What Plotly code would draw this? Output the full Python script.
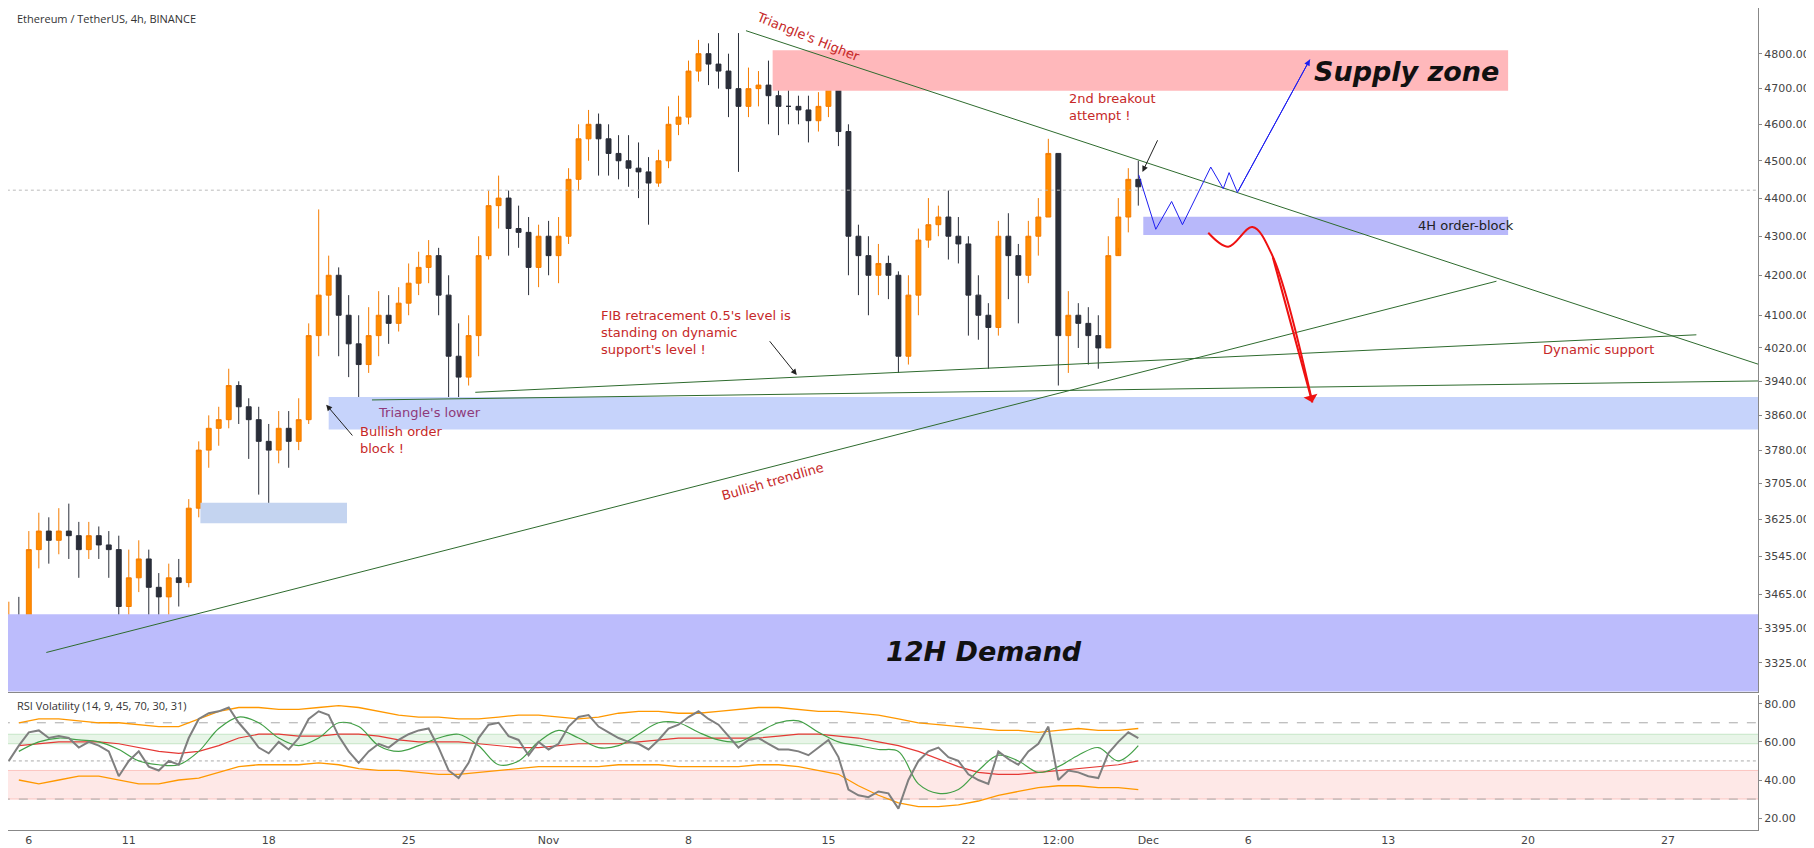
import math
from datetime import datetime, timedelta
import plotly.graph_objects as go
from plotly.subplots import make_subplots

## DATA (12h candles)

start = datetime(2021, 10, 5)
closes = [3420, 3380, 3560, 3600, 3580, 3600, 3590, 3560, 3590, 3570,
          3560, 3440, 3500, 3540, 3480, 3460, 3500, 3490, 3650, 3780,
          3830, 3850, 3930, 3880, 3850, 3800, 3780, 3830, 3800, 3850,
          4050, 4150, 4200, 4100, 4030, 3980, 4050, 4100, 4080, 4130,
          4180, 4220, 4250, 4150, 4000, 3950, 4050, 4250, 4380, 4400,
          4320, 4310, 4220, 4300, 4250, 4300, 4450, 4560, 4600, 4560,
          4520, 4500, 4480, 4470, 4440, 4500, 4600, 4620, 4750, 4800,
          4770, 4750, 4700, 4650, 4700, 4710, 4680, 4650, 4650, 4640,
          4610, 4650, 4700, 4580, 4300, 4250, 4200, 4230, 4200, 4000,
          4150, 4290, 4330, 4350, 4300, 4280, 4150, 4100, 4070, 4300,
          4250, 4200, 4300, 4350, 4520, 4050, 4100, 4080, 4050, 4020,
          4250, 4350, 4450, 4430]
highs = [3450, 3460, 3600, 3640, 3630, 3650, 3660, 3620, 3620, 3610,
         3600, 3590, 3560, 3580, 3560, 3510, 3530, 3540, 3670, 3800,
         3860, 3880, 3970, 3940, 3900, 3880, 3840, 3870, 3870, 3900,
         4080, 4370, 4250, 4220, 4150, 4100, 4120, 4160, 4150, 4170,
         4230, 4260, 4290, 4270, 4200, 4080, 4100, 4300, 4420, 4460,
         4420, 4380, 4350, 4330, 4340, 4350, 4480, 4600, 4640, 4630,
         4600, 4570, 4570, 4550, 4510, 4530, 4650, 4680, 4780, 4840,
         4830, 4860, 4800, 4860, 4760, 4750, 4780, 4730, 4700, 4680,
         4680, 4690, 4770, 4740, 4600, 4330, 4300, 4280, 4250, 4210,
         4200, 4320, 4400, 4380, 4420, 4350, 4300, 4200, 4130, 4340,
         4360, 4280, 4340, 4400, 4560, 4520, 4160, 4130, 4120, 4100,
         4300, 4400, 4480, 4500]
lows = [3300, 3340, 3360, 3520, 3530, 3550, 3540, 3500, 3540, 3540,
        3500, 3400, 3370, 3470, 3420, 3400, 3420, 3440, 3480, 3630,
        3740, 3790, 3830, 3840, 3760, 3680, 3640, 3750, 3740, 3780,
        3840, 4000, 4050, 4000, 3950, 3890, 3960, 4000, 4030, 4060,
        4100, 4150, 4180, 4100, 3900, 3890, 3930, 4000, 4240, 4320,
        4250, 4270, 4150, 4170, 4200, 4180, 4280, 4420, 4500, 4460,
        4460, 4450, 4430, 4400, 4330, 4430, 4480, 4570, 4600, 4720,
        4710, 4700, 4620, 4470, 4620, 4650, 4600, 4570, 4600, 4600,
        4550, 4580, 4620, 4540, 4200, 4150, 4100, 4150, 4140, 3960,
        3980, 4100, 4270, 4300, 4240, 4230, 4050, 4040, 3970, 4050,
        4140, 4080, 4180, 4250, 4350, 3930, 3960, 4020, 3980, 3970,
        4020, 4270, 4310, 4380]
first_open = 3380

rsi = [50, 58, 65, 66, 62, 63, 62, 57, 60, 58, 55, 42, 50, 55, 47, 45, 50, 48, 62, 72,
       75, 76, 78, 70, 64, 57, 54, 60, 56, 62, 72, 76, 74, 63, 55, 49, 55, 59, 57, 61,
       64, 66, 67, 57, 45, 41, 49, 62, 69, 70, 63, 61, 53, 60, 56, 59, 68, 73, 74, 68,
       65, 62, 60, 59, 56, 61, 67, 69, 73, 76, 72, 69, 63, 57, 61, 62, 59, 56, 56, 55,
       53, 57, 61, 52, 35, 32, 31, 34, 33, 25, 40, 50, 55, 57, 52, 50, 43, 40, 38, 55,
       51, 48, 55, 59, 68, 40, 45, 44, 42, 41, 54, 60, 65, 62]

# daily RSI-volatility companions
rsi_upper = [70, 72, 72, 71, 70, 70, 69, 68, 68, 72, 76, 78, 78, 77, 77, 78, 79, 78, 76, 74,
             73, 73, 72, 72, 73, 74, 74, 73, 72, 73, 75, 76, 76, 75, 75, 76, 77, 78, 78, 77,
             76, 76, 75, 74, 72, 70, 69, 68, 67, 66, 66, 65, 66, 67, 66, 66, 67]
rsi_lower = [40, 38, 40, 42, 42, 40, 38, 38, 40, 41, 44, 47, 48, 48, 48, 49, 48, 46, 45, 45,
             44, 43, 43, 44, 45, 46, 47, 47, 47, 47, 48, 48, 48, 47, 47, 47, 47, 48, 48, 47,
             45, 43, 37, 32, 28, 26, 26, 27, 29, 32, 34, 36, 37, 37, 36, 36, 35]
rsi_signal = [55, 60, 62, 61, 60, 56, 50, 48, 48, 55, 67, 73, 70, 62, 58, 62, 70, 68, 58, 55,
              58, 62, 64, 58, 48, 50, 60, 66, 62, 57, 58, 64, 70, 70, 65, 61, 60, 65, 70, 71,
              65, 60, 58, 56, 55, 38, 33, 35, 45, 53, 50, 44, 47, 53, 57, 50, 58]
rsi_ma = [58, 59, 60, 60, 60, 59, 57, 55, 54, 55, 58, 62, 64, 64, 63, 63, 64, 64, 63, 61,
          60, 60, 60, 59, 58, 57, 57, 58, 59, 59, 59, 60, 61, 62, 62, 62, 62, 62, 63, 64,
          64, 63, 62, 60, 58, 55, 51, 47, 44, 43, 43, 44, 45, 46, 47, 48, 50]

price_ticks = [4800, 4700, 4600, 4500, 4400, 4300, 4200, 4100, 4020, 3940, 3860,
               3780, 3705, 3625, 3545, 3465, 3395, 3325]
date_ticks = ["2021-10-06", "2021-10-11", "2021-10-18", "2021-10-25", "2021-11-01",
              "2021-11-08", "2021-11-15", "2021-11-22", "2021-11-26 12:00", "2021-12-01",
              "2021-12-06", "2021-12-13", "2021-12-20", "2021-12-27"]
date_labels = ["6", "11", "18", "25", "Nov", "8", "15", "22", "12:00", "Dec",
               "6", "13", "20", "27"]

# drawings: zones (x0, x1, p_low, p_high, colour)
zones = [
    ("2021-11-12 05:00", "2021-12-19", 4694, 4810, "#ffb8bb"),
    ("2021-11-30 18:00", "2021-12-19", 4303, 4351, "#b8b8fa"),
    ("2021-10-21", "2022-01-05", 3827, 3903, "#c6d3fb"),
    ("2021-10-14 14:00", "2021-10-21 22:00", 3617, 3662, "#c4d4f0"),
    ("2021-10-01", "2022-01-05", 3250, 3424, "#bcbcfc"),
]
trend_lines = [
    (["2021-11-10 21:00", "2021-12-31 18:00"], [4867, 3977]),   # triangle higher
    (["2021-10-28 08:00", "2021-12-28 10:00"], [3914, 4052]),   # dynamic support
    (["2021-10-23 04:00", "2021-12-31 18:00"], [3896, 3941]),   # triangle lower
    (["2021-10-06 21:00", "2021-12-18 10:00"], [3346, 4185]),   # bullish trendline
]
blue_x = ["2021-11-30 12:30", "2021-12-01 09:00", "2021-12-02 04:00", "2021-12-02 17:00",
          "2021-12-04 03:00", "2021-12-04 18:00", "2021-12-05 01:00", "2021-12-05 11:00",
          "2021-12-09 02:00"]
blue_y = [4462, 4318, 4391, 4330, 4483, 4425, 4468, 4415, 4783]
red_x = ["2021-12-04 00:00", "2021-12-05 00:00", "2021-12-06 05:00", "2021-12-07 05:00",
         "2021-12-09 05:00"]
red_y = [4309, 4273, 4324, 4250, 3890]

## BUILD

times = [start + timedelta(hours=12 * i) for i in range(len(closes))]
opens = [first_open] + closes[:-1]
days = [start + timedelta(days=i, hours=12) for i in range(len(rsi_upper))]

fig = make_subplots(rows=2, cols=1, shared_xaxes=True, vertical_spacing=0.004,
                    row_heights=[0.835, 0.165])

GREEN = "#2e6b2e"
for x0, x1, lo, hi, col in zones:
    fig.add_trace(go.Scatter(x=[x0, x1, x1, x0, x0], y=[lo, lo, hi, hi, lo], fill="toself",
                             fillcolor=col, line=dict(width=0), mode="lines",
                             hoverinfo="skip"), row=1, col=1)

fig.add_trace(go.Scatter(x=["2021-10-01", "2022-01-05"], y=[4421, 4421], mode="lines",
                         line=dict(color="#bbbbbb", width=1, dash="dot")), row=1, col=1)

for xs, ys in trend_lines:
    fig.add_trace(go.Scatter(x=xs, y=ys, mode="lines", line=dict(color=GREEN, width=1)),
                  row=1, col=1)

fig.add_trace(go.Candlestick(x=times, open=opens, high=highs, low=lows, close=closes,
                             increasing=dict(line=dict(color="#f57c00", width=1), fillcolor="#ff8c00"),
                             decreasing=dict(line=dict(color="#2a2e39", width=1), fillcolor="#2a2e39"),
                             whiskerwidth=0), row=1, col=1)

fig.add_trace(go.Scatter(x=blue_x, y=blue_y, mode="lines", line=dict(color="#1e1ef0", width=1)),
              row=1, col=1)
fig.add_trace(go.Scatter(x=red_x, y=red_y, mode="lines", line=dict(color="#ee1111", width=2,
                                                                    shape="spline")), row=1, col=1)

# RSI pane
for lo, hi, col in [(59, 64, "rgba(76,175,80,0.13)"), (30, 45, "rgba(244,67,54,0.12)")]:
    fig.add_trace(go.Scatter(x=["2021-10-01", "2022-01-05", "2022-01-05", "2021-10-01"],
                             y=[lo, lo, hi, hi], fill="toself", fillcolor=col, mode="lines",
                             line=dict(width=0.5, color=col.replace("0.1", "0.5"))), row=2, col=1)
for lvl, dash in [(70, "dash"), (50, "dot"), (30, "dash")]:
    fig.add_trace(go.Scatter(x=["2021-10-01", "2022-01-05"], y=[lvl, lvl], mode="lines",
                             line=dict(color="#aaaaaa", width=1, dash=dash)), row=2, col=1)
fig.add_trace(go.Scatter(x=days, y=rsi_upper, mode="lines", line=dict(color="#ff9800", width=1.3)), row=2, col=1)
fig.add_trace(go.Scatter(x=days, y=rsi_lower, mode="lines", line=dict(color="#ff9800", width=1.3)), row=2, col=1)
fig.add_trace(go.Scatter(x=days, y=rsi_ma, mode="lines", line=dict(color="#e53935", width=1.2)), row=2, col=1)
fig.add_trace(go.Scatter(x=days, y=rsi_signal, mode="lines", line=dict(color="#43a047", width=1.2,
                                                                       shape="spline")), row=2, col=1)
fig.add_trace(go.Scatter(x=times, y=rsi, mode="lines", line=dict(color="#7f7f7f", width=2)), row=2, col=1)

L = math.log10
red_txt = dict(color="#c62828", size=13, family="DejaVu Sans")
notes = [
    ("2021-11-13 23:00", 4850, "Triangle's Higher", 22, red_txt, "center"),
    ("2021-11-26 22:00", 4649, "2nd breakout<br>attempt !", 0, red_txt, "left"),
    ("2021-11-03 12:00", 4057, "FIB retracement 0.5's level is<br>standing on dynamic<br>support's level !", 0, red_txt, "left"),
    ("2021-10-26 01:00", 3867, "Triangle's lower", 0, dict(color="#8e3a7a", size=13, family="DejaVu Sans"), "center"),
    ("2021-10-22 11:00", 3802, "Bullish order<br>block !", 0, red_txt, "left"),
    ("2021-11-12 05:00", 3709, "Bullish trendline", -16, red_txt, "center"),
    ("2021-12-23 12:00", 4016, "Dynamic support", 0, red_txt, "center"),
    ("2021-12-16 22:00", 4327, "4H order-block", 0, dict(color="#222", size=13, family="DejaVu Sans"), "center"),
    ("2021-12-13 22:00", 4750, "<b><i>Supply zone</i></b>", 0, dict(color="#111", size=27, family="DejaVu Sans"), "center"),
    ("2021-11-22 19:00", 3349, "<b><i>12H Demand</i></b>", 0, dict(color="#111", size=27, family="DejaVu Sans"), "center"),
]
for x, p, t, ang, f, anchor in notes:
    fig.add_annotation(x=x, y=L(p), xref="x", yref="y", text=t, showarrow=False, textangle=ang,
                       font=f, xanchor=anchor, align="left")

arrows = [
    ("2021-11-30 17:00", 4470, "2021-12-01 12:00", 4560, "#222", 1),
    ("2021-11-13 10:00", 3955, "2021-11-12 00:00", 4040, "#222", 1),
    ("2021-10-20 21:00", 3885, "2021-10-22 06:00", 3810, "#222", 1),
    (blue_x[-1], blue_y[-1], blue_x[-2], blue_y[-2], "#1e1ef0", 1),
    (red_x[-1], red_y[-1], red_x[-2], red_y[-2], "#ee1111", 2),
]
for x, p, tx, tp, col, w in arrows:
    fig.add_annotation(x=x, y=L(p), ax=tx, ay=L(tp), xref="x", yref="y", axref="x", ayref="y",
                       text="", showarrow=True, arrowhead=2 if w == 1 else 1, arrowsize=1.2,
                       arrowwidth=w, arrowcolor=col)

fig.add_annotation(x=0.004, y=0.999, xref="paper", yref="paper", text="Ethereum / TetherUS, 4h, BINANCE",
                   showarrow=False, xanchor="left", yanchor="top", font=dict(size=11, color="#333"))
fig.add_annotation(x=0.004, y=0.163, xref="paper", yref="paper", text="RSI Volatility (14, 9, 45, 70, 30, 31)",
                   showarrow=False, xanchor="left", yanchor="top", font=dict(size=11, color="#333"))

tick_font = dict(size=11, color="#444", family="DejaVu Sans")
fig.update_layout(width=1814, height=848, margin=dict(l=0, r=64, t=0, b=26, autoexpand=False),
                  plot_bgcolor="white", paper_bgcolor="white", showlegend=False,
                  xaxis_rangeslider_visible=False)
fig.update_xaxes(range=["2021-10-04 23:00", "2021-12-31 12:00"], showgrid=False,
                 tickvals=date_ticks, ticktext=date_labels, tickfont=tick_font,
                 showline=True, linecolor="#888", ticks="", mirror=False)
fig.update_yaxes(side="right", showgrid=False, showline=True, linecolor="#888",
                 tickfont=tick_font, ticks="outside", ticklen=3, tickcolor="#888")
fig.update_yaxes(type="log", range=[L(3268), L(4934)], tickvals=price_ticks,
                 ticktext=[f"{v:.2f}" for v in price_ticks], row=1, col=1)
fig.update_yaxes(range=[13.8, 84.6], tickvals=[20, 40, 60, 80],
                 ticktext=["20.00", "40.00", "60.00", "80.00"], row=2, col=1)

fig.write_html("out.html")
